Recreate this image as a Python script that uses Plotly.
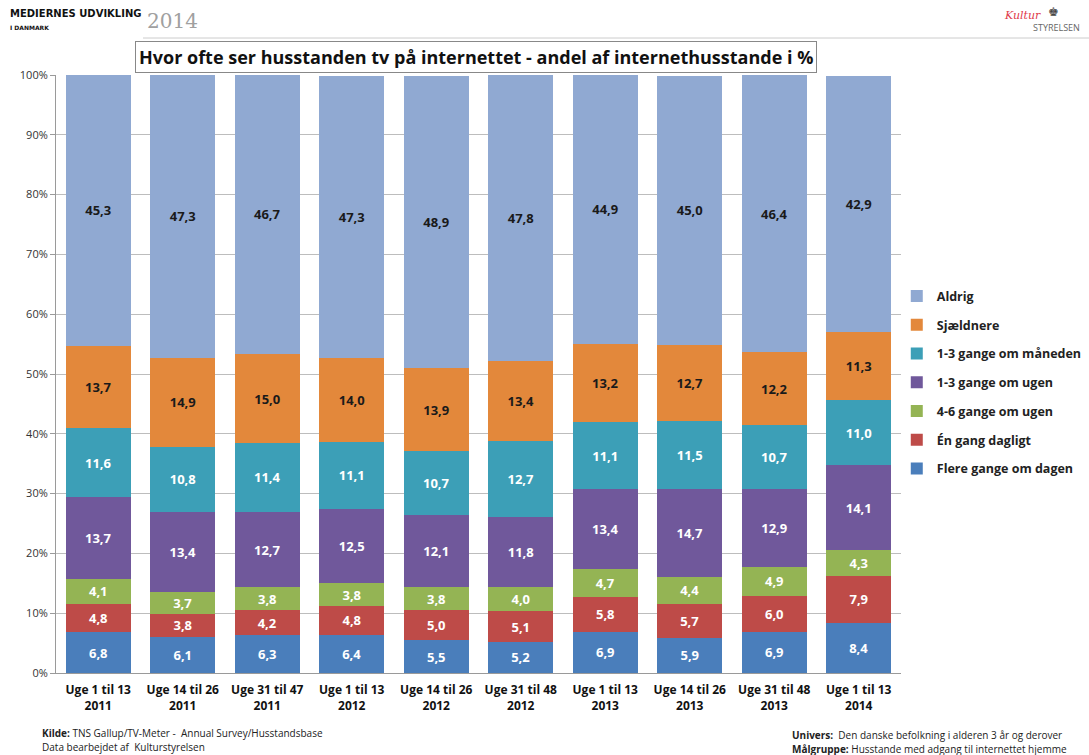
import plotly.graph_objects as go

categories = ["Uge 1 til 13<br>2011", "Uge 14 til 26<br>2011", "Uge 31 til 47<br>2011",
              "Uge 1 til 13<br>2012", "Uge 14 til 26<br>2012", "Uge 31 til 48<br>2012",
              "Uge 1 til 13<br>2013", "Uge 14 til 26<br>2013", "Uge 31 til 48<br>2013",
              "Uge 1 til 13<br>2014"]

flere_gange_om_dagen = [6.8, 6.1, 6.3, 6.4, 5.5, 5.2, 6.9, 5.9, 6.9, 8.4]
en_gang_dagligt = [4.8, 3.8, 4.2, 4.8, 5.0, 5.1, 5.8, 5.7, 6.0, 7.9]
fire_seks_om_ugen = [4.1, 3.7, 3.8, 3.8, 3.8, 4.0, 4.7, 4.4, 4.9, 4.3]
en_tre_om_ugen = [13.7, 13.4, 12.7, 12.5, 12.1, 11.8, 13.4, 14.7, 12.9, 14.1]
en_tre_om_maaneden = [11.6, 10.8, 11.4, 11.1, 10.7, 12.7, 11.1, 11.5, 10.7, 11.0]
sjaeldnere = [13.7, 14.9, 15.0, 14.0, 13.9, 13.4, 13.2, 12.7, 12.2, 11.3]
aldrig = [45.3, 47.3, 46.7, 47.3, 48.9, 47.8, 44.9, 45.0, 46.4, 42.9]

series = [
    ("Flere gange om dagen", flere_gange_om_dagen, "#4A7EBB", "white"),
    ("Én gang dagligt", en_gang_dagligt, "#BE4B48", "white"),
    ("4-6 gange om ugen", fire_seks_om_ugen, "#94B454", "white"),
    ("1-3 gange om ugen", en_tre_om_ugen, "#70589B", "white"),
    ("1-3 gange om måneden", en_tre_om_maaneden, "#3C9FB7", "white"),
    ("Sjældnere", sjaeldnere, "#E3883B", "#1a1a1a"),
    ("Aldrig", aldrig, "#90A9D2", "#1a1a1a"),
]

FONT = "Open Sans"

fig = go.Figure()
n = len(series)
for i, (name, vals, color, tcol) in enumerate(series):
    fig.add_trace(go.Bar(
        x=categories, y=vals, name=name, legendgroup=name, legendrank=n - i,
        marker=dict(color=color, line=dict(width=0)),
        text=[f"{v:.1f}".replace(".", ",") for v in vals],
        textposition="inside", insidetextanchor="middle", textangle=0,
        constraintext="none",
        textfont=dict(family=FONT, size=13, color=tcol, weight="bold"),
    ))

W, H = 1089, 755
L, R, T, B = 56, 188, 75, 82
pw, ph = W - L - R, H - T - B

fig.update_layout(
    width=W, height=H,
    barmode="stack", bargap=0.23,
    plot_bgcolor="white", paper_bgcolor="white",
    margin=dict(l=L, r=R, t=T, b=B, autoexpand=False),
    font=dict(family=FONT, color="#222222"),
    showlegend=True,
    legend=dict(
        x=0.995, y=0.655, xanchor="left", yanchor="top",
        traceorder="grouped", tracegroupgap=9.5,
        font=dict(family=FONT, size=12.5, color="#222222", weight="bold"),
        itemwidth=30, bgcolor="rgba(0,0,0,0)",
    ),
    xaxis=dict(
        tickfont=dict(family=FONT, size=12, color="#111111", weight="bold"),
        showline=True, linecolor="#9a9a9a", linewidth=1,
        ticks="", ticklabelstandoff=6,
    ),
    yaxis=dict(
        range=[0, 100], dtick=10, ticksuffix="%",
        tickfont=dict(family=FONT, size=11, color="#333333"),
        showgrid=True, gridcolor="#bdbdbd", gridwidth=1,
        showline=True, linecolor="#9a9a9a", linewidth=1,
        ticks="outside", ticklen=5, tickcolor="#9a9a9a",
        zeroline=False,
    ),
)

annotations = [
    dict(text="<b>Hvor ofte ser husstanden tv på internettet - andel af internethusstande i %</b>",
         x=476, y=755 - 57, showarrow=False,
         font=dict(family=FONT, size=18, color="#111111"),
         bordercolor="#888888", borderwidth=1, borderpad=3, bgcolor="white"),
    dict(text="<b>MEDIERNES UDVIKLING</b>", x=8, y=755 - 14, showarrow=False,
         xanchor="left", font=dict(family="DejaVu Sans", size=10, color="#111111")),
    dict(text="<b>I DANMARK</b>", x=8, y=755 - 27, showarrow=False,
         xanchor="left", font=dict(family="DejaVu Sans", size=6, color="#111111")),
    dict(text="2014", x=145, y=755 - 21, showarrow=False,
         xanchor="left", font=dict(family="DejaVu Serif", size=20, color="#a0a0a0")),
    dict(text="<i>Kultur</i>", x=1022, y=755 - 15, showarrow=False,
         xanchor="center", font=dict(family="DejaVu Serif", size=11, color="#e03a4a")),
    dict(text="♚", x=1053, y=755 - 11, showarrow=False,
         xanchor="center", font=dict(size=12, color="#444444")),
    dict(text="STYRELSEN", x=1056, y=755 - 27, showarrow=False,
         xanchor="center", font=dict(family=FONT, size=9, color="#666666")),
    dict(text="<b>Kilde:</b> TNS Gallup/TV-Meter -  Annual Survey/Husstandsbase",
         x=40, y=755 - 733, showarrow=False, xanchor="left",
         font=dict(family=FONT, size=10, color="#222222")),
    dict(text="Data bearbejdet af  Kulturstyrelsen",
         x=40, y=755 - 747, showarrow=False, xanchor="left",
         font=dict(family=FONT, size=10, color="#222222")),
    dict(text="<b>Univers:</b>  Den danske befolkning i alderen 3 år og derover",
         x=790, y=755 - 735, showarrow=False, xanchor="left",
         font=dict(family=FONT, size=10, color="#222222")),
    dict(text="<b>Målgruppe:</b> Husstande med adgang til internettet hjemme",
         x=790, y=755 - 749, showarrow=False, xanchor="left",
         font=dict(family=FONT, size=10, color="#222222")),
]
# convert pixel coordinates to paper coordinates
for a in annotations:
    a["xref"] = "paper"; a["yref"] = "paper"
    a["x"] = (a["x"] - L) / pw
    a["y"] = (a["y"] - B) / ph
    a.setdefault("yanchor", "middle")
fig.update_layout(annotations=annotations)

fig.add_shape(type="line", xref="paper", yref="paper",
              x0=(143 - L) / pw, x1=(1089 - L) / pw,
              y0=(755 - 38 - B) / ph, y1=(755 - 38 - B) / ph,
              line=dict(color="#cccccc", width=1))

fig.write_html("out.html")
